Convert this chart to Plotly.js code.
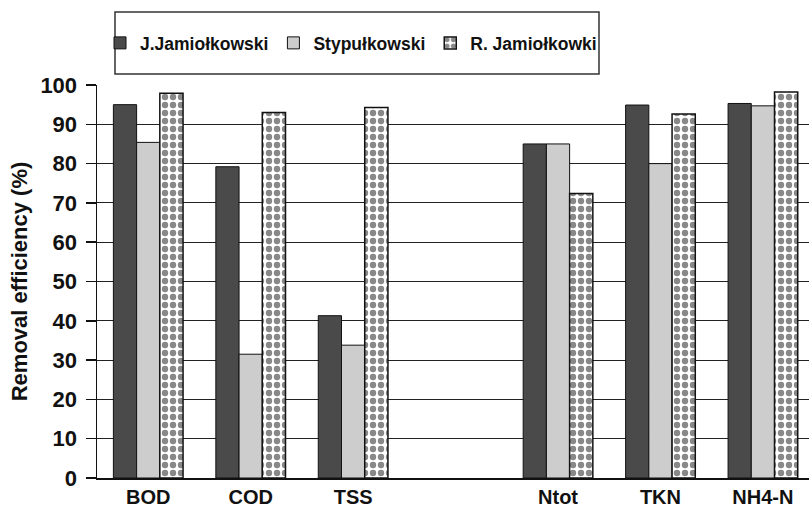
<!DOCTYPE html>
<html>
<head>
<meta charset="utf-8">
<script src="https://cdn.plot.ly/plotly-3.0.1.min.js"></script>
<style>html,body{margin:0;padding:0;background:#fff;}#chart{width:809px;height:507px;}</style>
</head>
<body>
<div id="chart"></div>
<script>
// ---- data ----
const categories = ["BOD", "COD", "TSS", "Ntot", "TKN", "NH4-N"];
const axisOrder = ["BOD", "COD", "TSS", " ", "Ntot", "TKN", "NH4-N"]; // blank slot between groups
const seriesNames = ["J.Jamiołkowski", "Stypułkowski", "R. Jamiołkowki"];
const jJamiolkowski = [95.0, 79.2, 41.3, 85.0, 94.9, 95.3];
const stypulkowski  = [85.4, 31.5, 33.8, 85.0, 80.0, 94.7];
const rJamiolkowki  = [97.9, 93.0, 94.3, 72.4, 92.6, 98.2];
const yTicks = [0, 10, 20, 30, 40, 50, 60, 70, 80, 90, 100];

const FONT = "Liberation Sans, Arial, Helvetica, sans-serif";
const outline = {color: "#111", width: 1};

const traces = [
  {type: "bar", name: seriesNames[0], x: categories, y: jJamiolkowski,
   marker: {color: "#4a4a4a", line: outline}},
  {type: "bar", name: seriesNames[1], x: categories, y: stypulkowski,
   marker: {color: "#cdcdcd", line: outline}},
  {type: "bar", name: seriesNames[2], x: categories, y: rJamiolkowki,
   marker: {color: "#ffffff", line: {color: "#111", width: 1.5},
            pattern: {shape: ".", fgcolor: "#111", bgcolor: "#ffffff", size: 8, solidity: 0.5, fillmode: "overlay"}}}
];

const L = 97, R = 0, T = 85, B = 29, W = 809, H = 507;
const pw = W - L - R, ph = H - T - B;
const px2x = p => (p - L) / pw;
const py2y = p => (H - B - p) / ph;

const layout = {
  width: W, height: H,
  margin: {l: L, r: R, t: T, b: B, pad: 0},
  paper_bgcolor: "#fff", plot_bgcolor: "#fff",
  barmode: "group", bargap: 0.32, bargroupgap: 0,
  font: {family: FONT, color: "#111", size: 20, weight: 700},
  showlegend: true,
  legend: {orientation: "h", x: px2x(100), xanchor: "left", y: py2y(43), yanchor: "middle",
           font: {family: FONT, size: 17.5, weight: 700, color: "#111"},
           bgcolor: "rgba(0,0,0,0)", borderwidth: 0,
           traceorder: "normal"},
  xaxis: {type: "category", categoryorder: "array", categoryarray: axisOrder,
          range: [-0.5, 6.45], showgrid: false, zeroline: false,
          showline: true, linecolor: "#111", linewidth: 1.5, ticks: "",
          tickfont: {family: FONT, size: 20, weight: 700, color: "#111"}},
  yaxis: {range: [0, 100], tickvals: yTicks, showgrid: true, gridcolor: "#222", gridwidth: 1,
          zeroline: false, showline: true, linecolor: "#111", linewidth: 1.5,
          ticks: "outside", ticklen: 10, tickcolor: "#111", tickwidth: 1.5, ticklabelstandoff: 4,
          tickfont: {family: FONT, size: 22, weight: 700, color: "#111"},
          title: {text: "Removal efficiency (%)", standoff: 6,
                  font: {family: FONT, size: 22, weight: 700, color: "#111"}}},
  shapes: [
    {type: "rect", xref: "paper", yref: "paper",
     x0: px2x(115), x1: px2x(599), y0: py2y(74), y1: py2y(12),
     line: {color: "#333", width: 1.5}, fillcolor: "rgba(0,0,0,0)", layer: "above"}
  ]
};

Plotly.newPlot("chart", traces, layout, {displayModeBar: false, staticPlot: true});
</script>
</body>
</html>
